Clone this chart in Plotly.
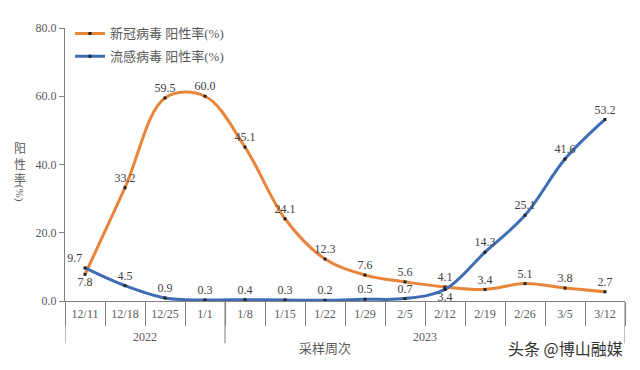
import plotly.graph_objects as go

weeks = ["12/11", "12/18", "12/25", "1/1", "1/8", "1/15", "1/22", "1/29",
         "2/5", "2/12", "2/19", "2/26", "3/5", "3/12"]
years = ["2022"] * 4 + ["2023"] * 10
covid = [7.8, 33.2, 59.5, 60.0, 45.1, 24.1, 12.3, 7.6, 5.6, 4.1, 3.4, 5.1, 3.8, 2.7]
flu = [9.7, 4.5, 0.9, 0.3, 0.4, 0.3, 0.2, 0.5, 0.7, 3.4, 14.3, 25.1, 41.6, 53.2]
y_ticks = [0, 20, 40, 60, 80]

covid_pos = ["bottom center"] + ["top center"] * 13
flu_pos = ["top left"] + ["top center"] * 8 + ["bottom center"] + ["top center"] * 4

FONT = "Liberation Serif, Noto Sans CJK SC, serif"
AXIS_COLOR = "#808080"

fig = go.Figure()
fig.add_trace(go.Scatter(
    x=weeks, y=covid, name="新冠病毒 阳性率(%)", mode="lines+markers+text",
    legendgroup="a",
    line=dict(color="#E8853A", width=3, shape="spline", smoothing=1.0),
    marker=dict(color="#222222", size=3, symbol="square"),
    text=[f"{v:.1f}" for v in covid], textposition=covid_pos,
    textfont=dict(family=FONT, size=12, color="#404040"),
))
fig.add_trace(go.Scatter(
    x=weeks, y=flu, name="流感病毒 阳性率(%)", mode="lines+markers+text",
    legendgroup="b",
    line=dict(color="#3F6DB5", width=3, shape="spline", smoothing=1.0),
    marker=dict(color="#222222", size=3, symbol="square"),
    text=[f"{v:.1f}" for v in flu], textposition=flu_pos,
    textfont=dict(family=FONT, size=12, color="#404040"),
))

# the page has an 8px body margin, so margins are shifted to compensate
fig.update_layout(
    width=640, height=370,
    margin=dict(l=57, r=23, t=10, b=77),
    paper_bgcolor="white", plot_bgcolor="white",
    font=dict(family=FONT, size=12, color="#595959"),
    showlegend=True,
    legend=dict(x=0.009, y=1.035, xanchor="left", yanchor="top",
                bgcolor="rgba(0,0,0,0)", font=dict(size=13, color="#595959"),
                itemwidth=30, tracegroupgap=3, traceorder="grouped"),
)
fig.update_yaxes(
    range=[0, 80], tickvals=y_ticks, tickformat=".1f", automargin=False,
    showgrid=False, zeroline=False, showline=True, linecolor=AXIS_COLOR,
    ticks="outside", ticklen=5, tickcolor=AXIS_COLOR,
    tickfont=dict(size=12, color="#595959"),
)
fig.update_xaxes(
    type="category", showgrid=False, showline=True, linecolor=AXIS_COLOR,
    automargin=False, range=[-0.5, len(weeks) - 0.5], tickson="boundaries",
    ticks="outside", ticklen=24, tickcolor=AXIS_COLOR,
    tickfont=dict(size=12, color="#595959"), ticklabelstandoff=2,
)

# year group dividers and labels (second level of the category axis)
groups = []
for i, yr in enumerate(years):
    if not groups or groups[-1][0] != yr:
        groups.append([yr, i, i])
    else:
        groups[-1][2] = i
bounds = sorted({g[1] - 0.5 for g in groups} | {g[2] + 0.5 for g in groups})
for b in bounds:
    fig.add_shape(type="line", xref="x", yref="paper", x0=b, x1=b, y0=0, y1=-0.155,
                  line=dict(color=AXIS_COLOR, width=1))
for yr, i0, i1 in groups:
    fig.add_annotation(x=(i0 + i1) / 2, y=-0.131, xref="x", yref="paper",
                       text=yr, showarrow=False, yanchor="middle",
                       font=dict(size=12, color="#595959"))

fig.add_annotation(x=-0.095, y=0.5, xref="paper", yref="paper",
                   text="阳<br>性<br>率", showarrow=False, yanchor="middle",
                   font=dict(size=12, color="#595959"))
fig.add_annotation(x=-0.095, y=0.395, xref="paper", yref="paper",
                   text="(%)", showarrow=False, textangle=90,
                   font=dict(size=11, color="#595959"))
fig.add_annotation(x=0.465, y=-0.173, xref="paper", yref="paper",
                   text="采样周次", showarrow=False, yanchor="middle",
                   font=dict(size=13, color="#595959"))
fig.add_annotation(x=1.0, y=-0.173, xref="paper", yref="paper",
                   text="头条 @博山融媒", showarrow=False, xanchor="right", yanchor="middle",
                   font=dict(size=16, color="#333333", family="Noto Sans CJK SC"))

fig.write_html("out.html")
